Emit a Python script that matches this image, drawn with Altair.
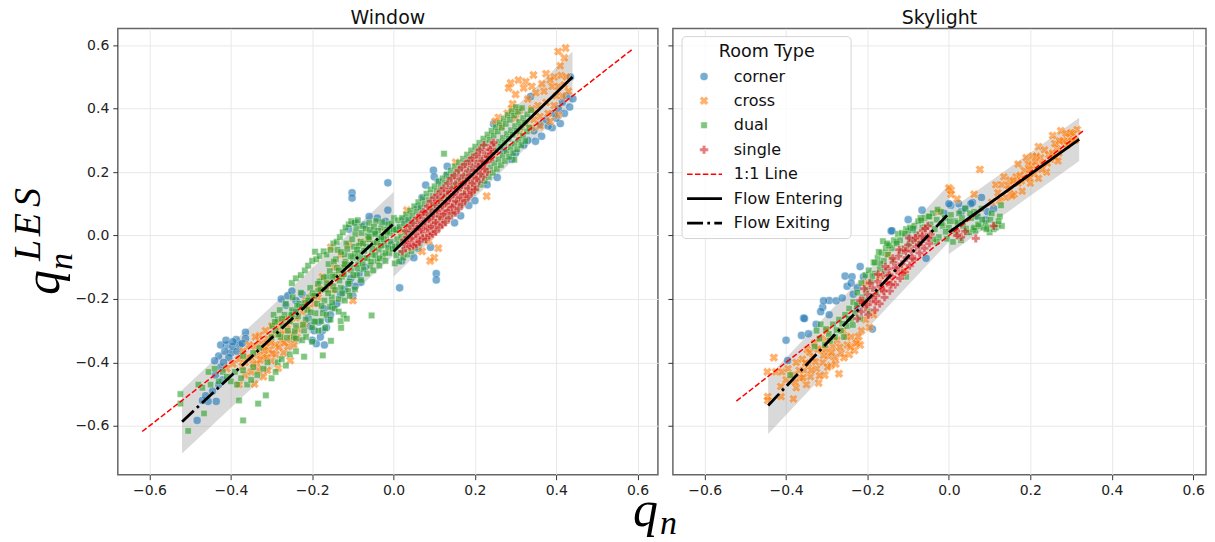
import altair as alt
import pandas as pd

# values in thousandths, flat x,y pairs
W_CORNER = [-483,-583,-436,-523,-456,-523,-470,-520,-462,-505,-445,-490,-430,-470,-420,-455,-438,-440,-425,-415,-430,-380,-410,-345,-387,-328,-364,-305,-364,-325,-400,-370,-415,-365,-395,-350,-378,-345,-405,-385,-418,-400,-440,-395,-385,-365,-372,-340,-425,-345,-412,-330,-395,-335,
-276,-200,-260,-190,-250,-175,-265,-220,-240,-205,-225,-185,-245,-240,-230,-220,-210,-260,-183,-273,-190,-341,-171,-231,-175,-300,-165,-290,-160,-265,-180,-320,-195,-300,-170,-345,-155,-250,-150,-225,-140,-215,-205,-285,-200,-330,-80,-147,-100,-190,-95,-160,-110,-150,-120,-170,-130,-185,-85,-120,-70,-100,-105,-135,
-102,135,-102,118,-14,166,-14,80,-93,40,-72,33,-110,20,-60,60,-50,10,-30,-20,-20,45,-40,55,15,-165,105,-120,105,-140,20,-80,-5,-30,10,20,25,50,40,45,30,-30,60,-40,91,-37,50,-70,
132,218,98,206,100,185,79,159,110,170,130,190,70,120,60,90,80,70,165,62,150,40,185,95,200,110,255,183,230,160,246,352,270,270,290,240,300,260,
441,431,433,405,410,353,390,340,364,313,349,297,400,370,380,345,420,385,337,438,435,500,425,440,415,420,395,385,375,365,405,400,320,285,345,330,360,350,330,300]

W_CROSS = [423,591,405,580,420,560,410,535,288,481,283,465,307,490,325,485,344,506,375,510,395,500,412,505,425,500,385,490,365,478,340,470,320,465,300,445,293,415,290,400,310,395,258,372,250,360,265,345,280,385,300,370,330,430,350,450,370,455,390,470,405,470,420,475,430,455,415,440,400,440,375,420,355,410,340,400,380,385,395,410,360,375,345,365,325,350,340,340,310,325,360,345,385,360,405,380,
153,231,229,124,33,80,87,-17,40,-10,70,-50,110,-40,60,30,100,-70,200,190,225,235,245,260,180,150,90,-80,20,10,
-154,-37,-130,-60,-110,-30,-80,-20,-60,-10,-40,-30,-20,10,-100,-205,
-284,-418,-254,-394,-342,-468,-380,-470,-365,-440,-350,-430,-335,-405,-320,-445,-310,-425,-300,-395,-290,-375,-270,-370,-260,-350,-245,-345,-275,-330,-290,-345,-305,-360,-320,-380,-335,-375,-350,-385,-365,-400,-380,-390,-395,-405,-410,-420,-340,-350,-325,-340,-310,-325,-295,-310,-280,-295,-265,-300,-250,-310,-235,-295,-220,-280,-240,-260,-255,-270,-270,-265,-285,-275,-300,-285,-315,-300,-330,-315,-225,-240,-210,-230,-195,-215,-215,-205,-200,-190,-185,-195,-170,-170,-185,-165,-160,-150,-150,-170,-175,-130,-140,-130,-125,-120,-145,-100,-120,-90,-340,-320,-355,-345,-370,-365,-345,-405,
-372,-412,-358,-385,-328,-392,-316,-352,-298,-372,-282,-352,-268,-338,-252,-328,-238,-322,-262,-282,-278,-312,-302,-338,-318,-362,-332,-425,-312,-385]

W_DUAL = [-524,-500,-524,-530,-505,-616,-466,-561,-370,-583,-333,-530,-314,-504,-380,-520,-54,-252,-193,-51,-129,-291,-123,-250,-154,-332,-174,-378,-220,-382,-130,-270,-115,-262,-470,-480,-480,-470,-455,-430,-440,-420,-450,-470,-430,-460,-420,-430,-410,-445,-400,-460,-390,-430,-385,-470,-375,-450,-370,-425,-360,-470,-350,-455,-345,-415,-335,-440,-320,-420,-310,-400,-300,-450,-290,-430,-285,-400,-275,-390,-265,-410,-255,-375,-240,-365,-330,-355,-345,-370,-370,-380,124,258,297,239,
-300,-320,-298,-285,-295,-250,-290,-300,-285,-265,-280,-235,-278,-320,-272,-285,-268,-250,-265,-215,-260,-300,-255,-270,-250,-235,-248,-195,-245,-320,-240,-285,-235,-255,-232,-215,-228,-180,-225,-330,-220,-300,-216,-265,-212,-235,-208,-195,-205,-165,-200,-290,-196,-270,-192,-245,-188,-215,-185,-175,-182,-145,-178,-270,-174,-245,-170,-205,-166,-170,-163,-130,-160,-90,-156,-225,-152,-195,-148,-160,-145,-125,-142,-75,-138,-45,-135,-200,-130,-165,-127,-130,-123,-100,-120,-60,-116,-25,-112,-175,-108,-145,-104,-110,-100,-70,-97,-35,-94,5,-90,-125,-87,-90,-84,-55,-81,-20,-78,30,-74,-105,-70,-70,-67,-35,-64,0,-60,40,-57,-95,-53,-60,-50,-25,-47,10,-43,45,-40,-80,-36,-45,-33,-10,-30,25,-26,-65,-22,-30,-19,0,-15,35,-11,-55,-7,-20,-3,15,1,55,
-292,-272,-283,-312,-274,-262,-262,-322,-253,-252,-243,-302,-237,-222,-223,-282,-218,-212,-204,-242,-199,-182,-193,-272,-186,-152,-177,-222,-172,-132,-168,-292,-161,-182,-157,-112,-151,-212,-147,-82,-144,-172,-139,-102,-133,-142,-129,-52,-126,-182,-122,-122,-118,-82,-114,-42,-111,-152,-106,-92,-102,-12,-99,-125,-95,-58,-92,22,-89,-102,-85,-32,-83,-72,-79,8,-76,-88,-72,-48,-69,22,-65,-72,-62,-12,-58,18,-55,-82,-52,-42,-48,28,-45,-62,-41,-22,-38,15,-34,-72,-31,-32,-28,42,-24,-12,-20,-55,-17,18,-13,-38,-9,8,-5,38,-2,-42,
-250,-150,-240,-135,-228,-125,-218,-110,-210,-95,-200,-80,-190,-75,-182,-65,-172,-50,-165,-60,-155,-45,-148,-25,-140,-20,-132,-5,-125,10,-118,25,-110,35,-104,45,-96,40,-88,48,-240,-325,-215,-320,-200,-335,-185,-300,-165,-250,-155,-265,-145,-230,-135,-240,-120,-205,-108,-190,-95,-170,-80,-140,-65,-120,-50,-110,-35,-95,-20,-80,-250,-250,-240,-240,-225,-225,-210,-205,-195,-190,-180,-170,-165,-150,-150,-130,-135,-110,-120,-90,-105,-65,-90,-45,-75,-25,-60,-5,-45,5,-30,-5,-15,12,0,20,
3,-88,7,-62,4,-35,9,-12,6,18,11,48,14,-82,18,-55,13,-28,19,-5,15,28,21,55,24,-70,28,-42,23,-18,29,8,26,38,31,66,34,-60,38,-32,33,-5,39,22,36,50,41,78,44,-50,48,-22,43,8,49,32,46,62,51,92,54,-38,58,-8,53,18,59,45,56,75,61,105,64,-25,68,2,63,32,69,58,66,88,71,118,74,-15,78,15,73,42,79,70,76,100,81,132,84,-2,88,28,83,55,89,82,86,112,91,145,94,10,98,40,93,68,99,95,96,125,101,155,104,22,108,52,103,80,109,108,106,140,111,170,114,35,118,65,113,92,119,120,116,152,121,180,124,48,128,78,123,105,129,132,126,165,131,192,134,60,138,90,133,118,139,145,136,178,141,205,144,72,148,102,143,130,149,158,146,190,151,218,154,85,158,115,153,142,159,170,156,202,161,230,164,98,168,128,163,155,169,182,166,215,171,242,174,110,178,140,173,168,179,195,176,228,181,255,184,122,188,152,183,180,189,208,186,240,191,268,194,135,198,165,193,192,199,220,196,252,201,280,204,148,208,178,203,205,209,232,206,265,211,292,214,160,218,190,213,218,219,245,216,278,221,305,224,172,228,202,223,230,229,258,226,290,231,318,234,185,238,215,233,242,239,270,236,302,241,330,244,198,248,228,243,255,249,282,246,315,251,342,254,210,258,240,253,268,259,295,256,328,261,355,264,222,268,252,263,280,269,308,266,340,271,368,274,235,278,265,273,292,279,320,276,352,281,380,284,248,288,278,283,305,289,332,286,365,291,392,294,260,298,290,293,318,299,345,296,378,301,405,304,272,308,302,303,330,309,358,306,390,314,285,318,315,313,342,319,370,316,402,324,298,328,328,323,355,329,382,334,340,338,395]

W_SINGLE = [22,-50,26,-15,30,-40,34,-5,38,-30,42,12,46,-20,50,-30,52,20,56,-10,60,30,62,-5,66,42,70,10,72,55,76,20,80,-2,82,68,86,35,90,12,92,82,96,50,100,22,102,98,106,70,110,38,112,112,116,82,118,52,122,128,126,100,128,70,132,140,136,110,140,82,142,150,146,122,150,95,152,165,156,130,160,105,162,180,166,150,170,115,172,190,176,160,180,130,182,205,186,175,190,140,192,220,196,185,200,155,202,235,206,205,210,170,212,248,216,215,220,185,222,262,226,230,230,200,234,272,238,240,242,285,246,293,248,265,238,270,228,250,216,225,
28,-28,36,-22,44,-8,54,5,58,22,64,-15,68,18,74,32,78,45,84,22,88,52,94,28,98,62,104,40,108,78,114,60,120,92,124,68,130,102,134,78,138,118,144,90,148,130,154,108,158,145,164,120,168,160,174,130,178,172,184,148,188,190,194,165,198,205,204,180,208,218,214,195,218,235,224,210,232,248,240,258,
40,-35,48,-32,56,-28,64,-20,72,-8,80,-12,88,0,96,5,104,12,112,25,120,35,128,42,136,55,144,70,152,72,160,85,168,98,176,110,184,122,192,135,200,145,30,15,40,30,48,40,58,55,66,65,74,75,84,92,92,108,100,120,108,128,116,140,124,150,134,165,142,180,150,190,160,205,168,215,176,225,186,235,194,245,204,255,212,270,222,285]

S_CORNER = [-400,-330,-396,-394,-362,-315,-345,-310,-357,-260,-355,-262,-326,-280,-310,-226,-315,-240,-294,-205,-308,-206,-277,-206,-294,-250,-262,-197,-255,-128,-238,-130,-218,-98,-250,-160,-235,-185,-240,-150,-225,-165,-188,-295,-142,14,-66,80,-56,-72,80,120,58,104,24,100,5,95,90,50,0,100,54,100,-140,15,-12,70,30,75,95,75,110,85,-100,50,-90,20,70,60,40,85,-225,-230,-210,-130,-95,-10]

S_CROSS = [-430,-385,-446,-430,-445,-508,-445,-520,-412,-508,-382,-515,-413,-476,-425,-430,-410,-430,-400,-455,-395,-420,-385,-440,-375,-400,-375,-480,-365,-450,-355,-425,-350,-470,-345,-405,-340,-445,-335,-385,-325,-420,-320,-465,-315,-360,-310,-400,-305,-440,-300,-330,-295,-380,-290,-410,-285,-350,-280,-385,-270,-436,-275,-330,-265,-370,-260,-300,-250,-345,-245,-375,-240,-320,-232,-362,-225,-335,-218,-345,-215,-300,-205,-265,-195,-290,-185,-250,-300,-300,-315,-325,-330,-340,-348,-360,-360,-390,
-378,-462,-368,-425,-358,-448,-352,-402,-338,-425,-328,-398,-318,-442,-308,-378,-298,-415,-288,-368,-278,-405,-268,-352,-258,-385,-252,-318,-242,-352,-228,-340,-222,-318,-302,-358,-322,-358,-342,-368,-205,-150,-170,-130,-150,-60,-110,-110,5,143,20,115,62,130,-25,75,0,150,5,130,
76,208,115,160,135,185,150,175,170,225,190,245,205,250,220,280,235,270,255,315,275,330,295,310,315,334,305,320,285,295,265,275,245,255,225,245,205,220,185,205,165,185,150,145,170,165,190,180,210,195,230,225,250,240,270,260,290,285,240,200,220,180,200,165,180,140,160,130,140,120,125,110,105,105,120,135,130,160,175,190,195,225,215,250,260,290,280,300,300,325,310,300,255,260,
145,158,158,172,178,172,198,208,212,232,228,208,242,228,262,248,272,298,288,322,302,298,268,235,198,182,155,125]

S_DUAL = [-390,-440,-330,-350,-325,-300,-315,-280,-305,-345,-295,-310,-285,-280,-280,-320,-270,-265,-265,-300,-255,-250,-250,-285,-245,-230,-240,-265,-235,-210,-230,-245,-225,-180,-222,-215,-215,-150,-212,-195,-205,-125,-202,-170,-197,-110,-192,-145,-185,-85,-182,-120,-175,-70,-170,-105,-165,-55,-160,-80,-155,-40,-150,-60,-145,-30,-140,-40,-135,-15,-130,-20,-125,5,-120,-15,-115,8,-110,-40,-105,20,-100,15,-95,25,-90,-15,-85,30,-80,5,-75,45,-70,55,-65,25,-60,55,-55,0,-50,60,-45,35,-40,70,-35,20,-30,50,-25,-5,-20,75,-15,30,-10,55,-5,-10,0,25,5,65,10,-20,15,45,20,5,25,70,30,-15,35,30,40,85,45,10,50,10,55,55,60,20,65,15,70,60,75,30,80,85,85,25,90,40,95,25,100,10,105,70,110,20,115,25,120,35,125,60,130,30,-30,-20,-105,-130,128,95,62,75,
-318,-325,-302,-295,-292,-332,-276,-298,-262,-278,-258,-320,-246,-262,-236,-282,-226,-218,-218,-262,-208,-205,-198,-238,-188,-128,-178,-178,-168,-88,-158,-112,-148,-32,-138,-78,-128,-25,-118,-52,-108,5,-98,-28,-88,22,-78,-18,-68,48,-58,28,-48,60,-38,-12,-28,82,-18,38,-8,12,2,45,12,15,22,40,32,55,42,22,52,70,62,25,72,35,82,50,92,20,102,50,112,35,122,45,-182,-85,-172,-52,-162,-18,-152,-25]

S_SINGLE = [-225,-262,-215,-240,-212,-205,-205,-225,-200,-185,-198,-250,-192,-210,-188,-165,-182,-235,-178,-190,-175,-145,-170,-215,-165,-170,-162,-125,-158,-195,-152,-150,-148,-105,-145,-175,-140,-130,-136,-85,-132,-155,-128,-110,-124,-65,-120,-135,-116,-90,-112,-45,-108,-115,-104,-70,-100,-30,-96,-95,-92,-50,-88,-15,-84,-75,-80,-35,-76,0,-72,-55,-68,-20,-64,15,-60,-40,-56,-5,-52,30,-48,-25,-45,4,66,-9,40,13,30,-5,18,15,110,30,20,0,
-208,-168,-194,-150,-186,-195,-174,-122,-168,-160,-156,-98,-150,-128,-142,-155,-138,-72,-130,-102,-122,-45,-114,-118,-106,-48,-98,-8,-90,-72,-82,-8,-74,-30,-66,-2,-58,22,-50,-8,-218,-205,-202,-218,-180,-208,-160,-175,-146,-125]

ROOM_TYPES = ["corner", "cross", "dual", "single"]
COLORS = ["#1f77b4", "#ff7f0e", "#2ca02c", "#d62728"]
LEGEND_ROWS = ["corner", "cross", "dual", "single", "1:1 Line", "Flow Entering", "Flow Exiting"]
TICKS = [-0.6, -0.4, -0.2, 0.0, 0.2, 0.4, 0.6]

X_DOM_L = [-0.678, 0.65]
X_DOM_R = [-0.678, 0.6315]
Y_DOM = [-0.754, 0.653]
W_L, W_R, H = 541, 534, 447
LEFT0, RIGHT0, TOP0 = 116.5, 672.5, 28.5

def frame(flat):
    return pd.DataFrame({"x": [v / 1000 for v in flat[0::2]], "y": [v / 1000 for v in flat[1::2]]})

xsL = alt.Scale(domain=X_DOM_L, nice=False, zero=False)
xsR = alt.Scale(domain=X_DOM_R, nice=False, zero=False)
ys = alt.Scale(domain=Y_DOM, nice=False, zero=False)

def enc(left):
    return dict(
        x=alt.X("x:Q", scale=xsL if left else xsR, title=None, axis=alt.Axis(values=TICKS, format=".1f", grid=True)),
        y=alt.Y("y:Q", scale=ys, title=None, axis=alt.Axis(values=TICKS, format=".1f", grid=True, labels=left)))

SYM = {
    "corner": dict(shape="circle", size=66, color=COLORS[0]),
    "cross": dict(shape="cross", angle=45, size=85, color=COLORS[1]),
    "dual": dict(shape="square", size=42, color=COLORS[2]),
    "single": dict(shape="cross", size=75, color=COLORS[3]),
}

def scatter(flat, kind, left):
    return alt.Chart(frame(flat)).mark_point(filled=True, opacity=0.6, stroke="white", strokeWidth=0.5, **SYM[kind]).encode(**enc(left))

def band(x0, x1, y0, y1, half, left):
    d = pd.DataFrame({"x": [x0, x1], "y": [y0 - half, y1 - half], "hi": [y0 + half, y1 + half]})
    return alt.Chart(d).mark_area(color="#808080", opacity=0.3).encode(y2="hi:Q", **enc(left))

def line(x0, x1, y0, y1, left, **kw):
    d = pd.DataFrame({"x": [x0, x1], "y": [y0, y1]})
    return alt.Chart(d).mark_line(**kw).encode(**enc(left))

RED = dict(color="#ff0000", strokeWidth=1.5, strokeDash=[5.5, 2.4])
SOLID = dict(color="black", strokeWidth=2.8)
DASHDOT = dict(color="black", strokeWidth=2.8, strokeDash=[16, 4.3, 2.7, 4.3])

blank = alt.Data(values=[{"a": 0}])

def label(txt, px, py, ox, **kw):
    return alt.Chart(blank).mark_text(**kw).encode(
        x=alt.value(px - ox), y=alt.value(py - TOP0), text=alt.value(txt))

def panel(left, pts, enter, exit_, one, bh):
    layers = [band(*exit_, bh[1], left), band(*enter, bh[0], left)]
    layers += [scatter(p, k, left) for p, k in zip(pts, ROOM_TYPES)]
    layers += [line(one[0], one[1], one[0], one[1], left, **RED), line(*enter, left, **SOLID), line(*exit_, left, **DASHDOT)]
    return layers

serif = dict(font="Liberation Serif", fontStyle="italic", color="black", align="center", baseline="alphabetic")

left_layers = panel(True, [W_CORNER, W_CROSS, W_DUAL, W_SINGLE],
                    (0.0, 0.44, -0.05, 0.50), (-0.52, 0.0, -0.587, 0.037), (-0.618, 0.588), (0.08, 0.1))
left_layers += [
    label("q", 645, 527, LEFT0, fontSize=50, **serif),
    label("n", 668, 535, LEFT0, fontSize=34, **serif),
    label("q", 58, 283, LEFT0, fontSize=50, angle=270, **serif),
    label("n", 71, 262, LEFT0, fontSize=34, angle=270, **serif),
    label("L", 39, 251, LEFT0, fontSize=38, angle=270, **serif),
    label("E", 39, 225, LEFT0, fontSize=38, angle=270, **serif),
    label("S", 39, 198, LEFT0, fontSize=38, angle=270, **serif),
]

right_layers = panel(False, [S_CORNER, S_CROSS, S_DUAL, S_SINGLE],
                     (0.0, 0.32, 0.01, 0.303), (-0.444, 0.0, -0.536, 0.07), (-0.522, 0.334), (0.068, 0.09))

# legend
ROW_Y = [76.7, 101, 125.5, 150, 174.5, 199, 223.5]
def px(v): return alt.value(v - RIGHT0)
def py(v): return alt.value(v - TOP0)
right_layers.append(alt.Chart(blank).mark_rect(fill="white", fillOpacity=0.8, stroke="#d4d4d4", strokeWidth=1, cornerRadius=4).encode(
    x=px(681.7), x2=px(851), y=py(36.7), y2=py(239)))
for k, yy in zip(ROOM_TYPES, ROW_Y):
    right_layers.append(alt.Chart(blank).mark_point(filled=True, opacity=0.6, stroke="white", strokeWidth=0.5, **SYM[k]).encode(x=px(703.7), y=py(yy)))
for yy, st in zip(ROW_Y[4:], [RED, SOLID, DASHDOT]):
    right_layers.append(alt.Chart(blank).mark_rule(**st).encode(x=px(686.7), x2=px(721.7), y=py(yy)))
sans = dict(font="DejaVu Sans", color="#111111", baseline="middle")
right_layers.append(label("Room Type", 766.5, 52, RIGHT0, fontSize=17.6, align="center", **sans))
for t, yy in zip(LEGEND_ROWS, ROW_Y):
    right_layers.append(label(t, 733.5, yy, RIGHT0, fontSize=16, align="left", **sans))

def finish(layers, title, w):
    return alt.layer(*layers).properties(
        width=w, height=H,
        title=alt.TitleParams(title, fontSize=19, fontWeight="normal", font="DejaVu Sans", color="#111111", offset=0))

chart = alt.hconcat(finish(left_layers, "Window", W_L), finish(right_layers, "Skylight", W_R), spacing=15, bounds="flush").resolve_scale(x="independent", y="independent").properties(
    padding={"left": 1, "top": 0, "right": 0, "bottom": -3}
).configure_view(stroke="#666666", strokeWidth=1.5).configure_axis(
    labelFont="DejaVu Sans", labelFontSize=14, labelColor="#222222", tickColor="#333333", tickSize=5,
    domain=False, gridColor="#e8e8e8", labelPadding=4
)

chart.save("out.html", embed_options={"renderer": "svg", "actions": False})
